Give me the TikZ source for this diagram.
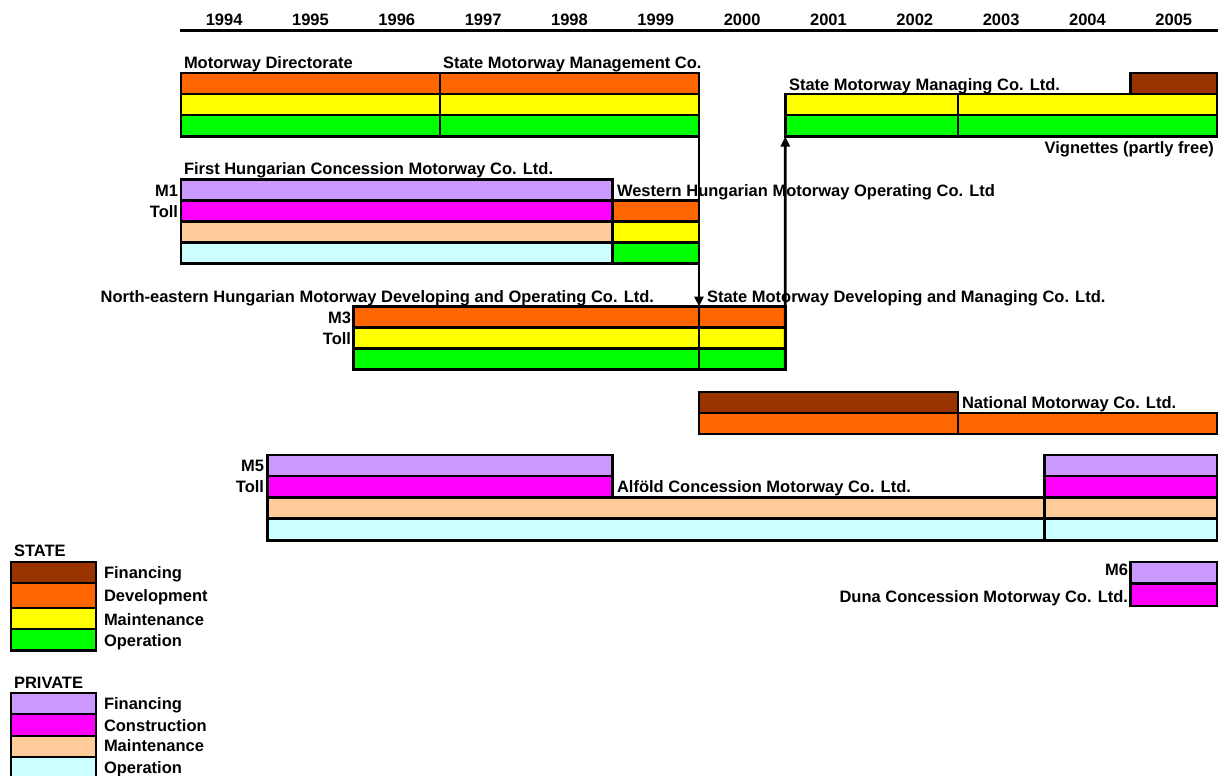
\documentclass[tikz,border=0pt]{standalone}
\usepackage{fontspec}
\setmainfont{Liberation Sans}
\usetikzlibrary{arrows.meta}
\definecolor{cOrange}{HTML}{FF6600}
\definecolor{cYellow}{HTML}{FFFF00}
\definecolor{cGreen}{HTML}{00FF00}
\definecolor{cBrown}{HTML}{993300}
\definecolor{cLilac}{HTML}{CC99FF}
\definecolor{cMagenta}{HTML}{FF00FF}
\definecolor{cPeach}{HTML}{FFCC99}
\definecolor{cCyan}{HTML}{CCFFFF}
\tikzset{
  barcell/.style={draw=black, line width=2.6pt, outer sep=0pt, inner sep=0pt, anchor=north west},
  lbl/.style={inner sep=0pt, outer sep=0pt, font=\fontsize{16.5}{19}\selectfont\bfseries},
  link/.style={line width=2.8pt, -{Triangle[length=10pt,width=9pt]}},
  axisline/.style={line width=2.6pt},
}
% name, x1, y1, x2, y2, colour
\newcommand\mkcell[6]{\node[barcell, fill=#6, minimum width={(#4)-(#2)}, minimum height={(#5)-(#3)}] (#1) at (#2,#3) {};}
\begin{document}
\begin{tikzpicture}[x=1pt,y=-1pt]
\useasboundingbox (0,0) rectangle (1218,776);
% ---- year axis
\foreach \yr [count=\i from 0] in {1994,...,2005}{
  \node[lbl, anchor=base] (y\yr) at ({181+86.33*(\i+0.5)},26) {\yr};
}
\coordinate (axL) at (180,30.5);
\coordinate (axR) at (1218,30.5);
\draw[axisline] (axL) -- (axR);
% ---- state block A (1994-1999)
\mkcell{aLo}{181}{73}{440}{94}{cOrange}
\mkcell{aLy}{181}{94}{440}{115}{cYellow}
\mkcell{aLg}{181}{115}{440}{136.5}{cGreen}
\mkcell{aRo}{440}{73}{699}{94}{cOrange}
\mkcell{aRy}{440}{94}{699}{115}{cYellow}
\mkcell{aRg}{440}{115}{699}{136.5}{cGreen}
% ---- state block B (2001-2005)
\mkcell{bBr}{1130.67}{73}{1217}{94}{cBrown}
\mkcell{bLy}{785.33}{94}{958}{115}{cYellow}
\mkcell{bLg}{785.33}{115}{958}{136.5}{cGreen}
\mkcell{bRy}{958}{94}{1217}{115}{cYellow}
\mkcell{bRg}{958}{115}{1217}{136.5}{cGreen}
% ---- M1
\mkcell{m1f}{181}{179.5}{612.67}{200.5}{cLilac}
\mkcell{m1c}{181}{200.5}{612.67}{221.5}{cMagenta}
\mkcell{m1m}{181}{221.5}{612.67}{242.5}{cPeach}
\mkcell{m1o}{181}{242.5}{612.67}{263.5}{cCyan}
\mkcell{m1Ro}{612.67}{200.5}{699}{221.5}{cOrange}
\mkcell{m1Ry}{612.67}{221.5}{699}{242.5}{cYellow}
\mkcell{m1Rg}{612.67}{242.5}{699}{263.5}{cGreen}
% ---- M3
\mkcell{m3Lo}{353.67}{306.5}{699}{327.5}{cOrange}
\mkcell{m3Ly}{353.67}{327.5}{699}{348.5}{cYellow}
\mkcell{m3Lg}{353.67}{348.5}{699}{369.5}{cGreen}
\mkcell{m3Ro}{699}{306.5}{785.33}{327.5}{cOrange}
\mkcell{m3Ry}{699}{327.5}{785.33}{348.5}{cYellow}
\mkcell{m3Rg}{699}{348.5}{785.33}{369.5}{cGreen}
% ---- National
\mkcell{nBr}{699}{392}{958}{413}{cBrown}
\mkcell{nLo}{699}{413}{958}{434}{cOrange}
\mkcell{nRo}{958}{413}{1217}{434}{cOrange}
% ---- M5
\mkcell{m5f}{267.33}{455}{612.67}{476}{cLilac}
\mkcell{m5c}{267.33}{476}{612.67}{497.5}{cMagenta}
\mkcell{m5m}{267.33}{497.5}{1044.33}{518.5}{cPeach}
\mkcell{m5o}{267.33}{518.5}{1044.33}{540.5}{cCyan}
\mkcell{m5Rf}{1044.33}{455}{1217}{476}{cLilac}
\mkcell{m5Rc}{1044.33}{476}{1217}{497.5}{cMagenta}
\mkcell{m5Rm}{1044.33}{497.5}{1217}{518.5}{cPeach}
\mkcell{m5Ro}{1044.33}{518.5}{1217}{540.5}{cCyan}
% ---- M6
\mkcell{m6f}{1130.67}{562}{1217}{583.5}{cLilac}
\mkcell{m6c}{1130.67}{583.5}{1217}{606}{cMagenta}
% ---- legend state
\mkcell{lsF}{11}{562}{96}{583}{cBrown}
\mkcell{lsD}{11}{583}{96}{608}{cOrange}
\mkcell{lsM}{11}{608}{96}{629}{cYellow}
\mkcell{lsO}{11}{629}{96}{650.5}{cGreen}
% ---- legend private
\mkcell{lpF}{11}{693}{96}{714}{cLilac}
\mkcell{lpC}{11}{714}{96}{736}{cMagenta}
\mkcell{lpM}{11}{736}{96}{757}{cPeach}
\mkcell{lpO}{11}{757}{96}{782}{cCyan}
% ---- labels
\node[lbl, anchor=base west] (tMD) at (184,69) {Motorway Directorate};
\node[lbl, anchor=base west] (tSMM) at (443,69) {State Motorway Management Co.};
\node[lbl, anchor=base west] (tSMG) at (789,90) {State Motorway Managing Co. Ltd.};
\node[lbl, anchor=base east] (tVig) at (1214,153) {Vignettes (partly free)};
\node[lbl, anchor=base west] (tFH) at (184,174) {First Hungarian Concession Motorway Co. Ltd.};
\node[lbl, anchor=base east] (tM1) at (178,196.5) {M1};
\node[lbl, anchor=base east] (tT1) at (178,217) {Toll};
\node[lbl, anchor=base west] (tWH) at (617,196.5) {Western Hungarian Motorway Operating Co. Ltd};
\node[lbl, anchor=base east] (tNE) at (654,302) {North-eastern Hungarian Motorway Developing and Operating Co. Ltd.};
\node[lbl, anchor=base west] (tSD) at (707,302) {State Motorway Developing and Managing Co. Ltd.};
\node[lbl, anchor=base east] (tM3) at (351,323) {M3};
\node[lbl, anchor=base east] (tT3) at (351,344) {Toll};
\node[lbl, anchor=base west] (tNat) at (962,408.5) {National Motorway Co. Ltd.};
\node[lbl, anchor=base east] (tM5) at (264,471.5) {M5};
\node[lbl, anchor=base east] (tT5) at (264,492.5) {Toll};
\node[lbl, anchor=base west] (tAl) at (617,492.5) {Alföld Concession Motorway Co. Ltd.};
\node[lbl, anchor=base east] (tM6) at (1128,575) {M6};
\node[lbl, anchor=base east] (tDu) at (1128,602) {Duna Concession Motorway Co. Ltd.};
\node[lbl, anchor=base west] (tST) at (14,556.5) {STATE};
\node[lbl, anchor=base west] (tsF) at (104,578.3) {Financing};
\node[lbl, anchor=base west] (tsD) at (104,601) {Development};
\node[lbl, anchor=base west] (tsM) at (104,625) {Maintenance};
\node[lbl, anchor=base west] (tsO) at (104,646) {Operation};
\node[lbl, anchor=base west] (tPR) at (14,688.3) {PRIVATE};
\node[lbl, anchor=base west] (tpF) at (104,709.3) {Financing};
\node[lbl, anchor=base west] (tpC) at (104,731) {Construction};
\node[lbl, anchor=base west] (tpM) at (104,751.7) {Maintenance};
\node[lbl, anchor=base west] (tpO) at (104,773.3) {Operation};
% ---- arrows
\draw[link] (aRg.south east) -- (m3Ro.north west);
\draw[link] (m3Rg.south east) -- (bLg.south west);
\end{tikzpicture}
\end{document}
